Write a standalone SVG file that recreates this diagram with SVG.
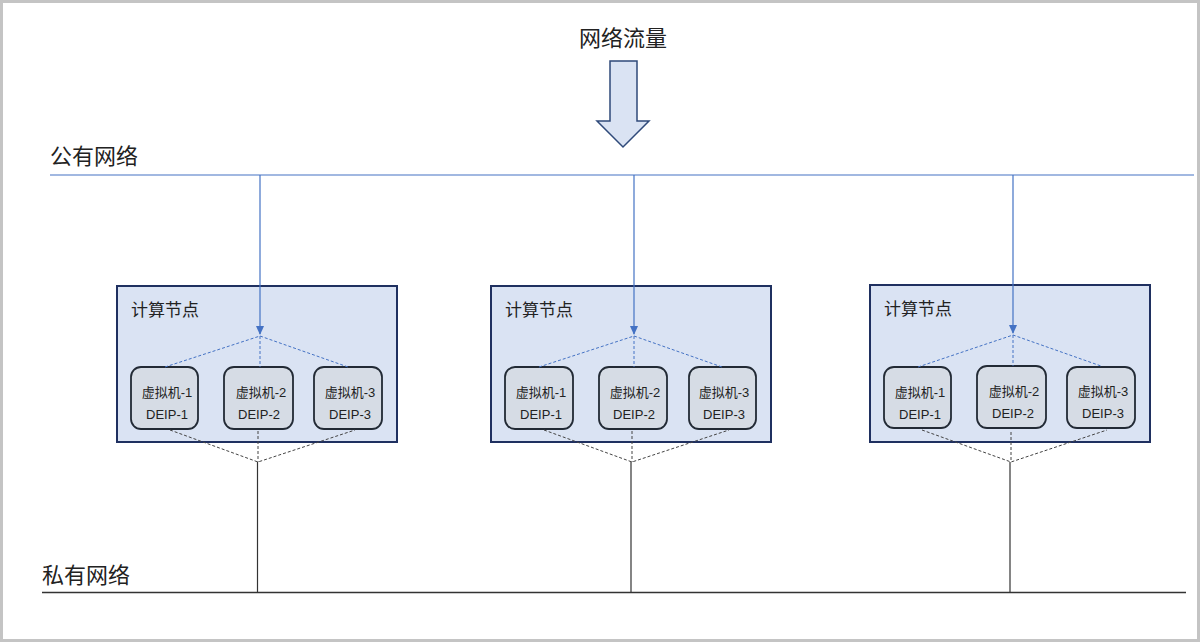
<svg xmlns="http://www.w3.org/2000/svg" width="1200" height="642" viewBox="0 0 1200 642">
<defs>
<style>
.t{font-family:"Liberation Sans","Noto Sans CJK SC",sans-serif;fill:#222}
.big{font-size:22px}
.lbl{font-size:17px}
.vm{font-size:13px;text-anchor:middle}
.node{fill:#dae3f3;stroke:#1f3060;stroke-width:2}
.vmbox{fill:#d6dce5;stroke:#222a35;stroke-width:1.8}
.blue{stroke:#4472c4;stroke-width:1.2;fill:none}
.bdash{stroke:#4472c4;stroke-width:1;stroke-dasharray:3 2;fill:none}
.gdash{stroke:#444;stroke-width:1;stroke-dasharray:3 2;fill:none}
.solid{stroke:#333;stroke-width:1.2;fill:none}
</style>
<marker id="ah" markerWidth="10" markerHeight="10" refX="8" refY="5" orient="auto" markerUnits="userSpaceOnUse">
<path d="M0,1 L9,5 L0,9 Z" fill="#4472c4"/>
</marker>
</defs>
<rect x="1.5" y="1.5" width="1197" height="639" fill="#fff" stroke="#c4c4c4" stroke-width="3"/>

<g id="title">
<text class="t big" x="623" y="46" text-anchor="middle">网络流量</text>
<path d="M610,61 H637 V121 H649 L623,147 L597,121 H610 Z" fill="#dae3f3" stroke="#2f4a7a" stroke-width="1.5"/>
</g>

<g id="public-net">
<text class="t big" x="50" y="164">公有网络</text>
<line x1="50" y1="175" x2="1194" y2="175" stroke="#4472c4" stroke-width="1.2"/>
</g>

<g id="private-net">
<text class="t big" x="42" y="583">私有网络</text>
<line x1="42" y1="592.5" x2="1186" y2="592.5" stroke="#333" stroke-width="1.3"/>
</g>

<g id="node1">
<rect class="node" x="117" y="286" width="280" height="156"/>
<text class="t lbl" x="131" y="316">计算节点</text>
<rect class="vmbox" x="131" y="367" width="67" height="62" rx="10"/>
<rect class="vmbox" x="224" y="367" width="69" height="62" rx="10"/>
<rect class="vmbox" x="314" y="367" width="68" height="62" rx="10"/>
<text class="t vm" x="167" y="397">虚拟机-1</text><text class="t vm" x="167" y="419">DEIP-1</text>
<text class="t vm" x="261" y="397">虚拟机-2</text><text class="t vm" x="259" y="419">DEIP-2</text>
<text class="t vm" x="350" y="397">虚拟机-3</text><text class="t vm" x="350" y="419">DEIP-3</text>
</g>

<g id="node2">
<rect class="node" x="491" y="286" width="280" height="156"/>
<text class="t lbl" x="505" y="316">计算节点</text>
<rect class="vmbox" x="505" y="367" width="68" height="62" rx="10"/>
<rect class="vmbox" x="599" y="367" width="68" height="62" rx="10"/>
<rect class="vmbox" x="689" y="367" width="67" height="62" rx="10"/>
<text class="t vm" x="541" y="397">虚拟机-1</text><text class="t vm" x="541" y="419">DEIP-1</text>
<text class="t vm" x="635" y="397">虚拟机-2</text><text class="t vm" x="634" y="419">DEIP-2</text>
<text class="t vm" x="724" y="397">虚拟机-3</text><text class="t vm" x="724" y="419">DEIP-3</text>
</g>

<g id="node3">
<rect class="node" x="870" y="285" width="280" height="157"/>
<text class="t lbl" x="884" y="315">计算节点</text>
<rect class="vmbox" x="884" y="367" width="67" height="61" rx="10"/>
<rect class="vmbox" x="977" y="366" width="69" height="62" rx="10"/>
<rect class="vmbox" x="1067" y="367" width="68" height="61" rx="10"/>
<text class="t vm" x="920" y="397">虚拟机-1</text><text class="t vm" x="920" y="419">DEIP-1</text>
<text class="t vm" x="1014" y="396">虚拟机-2</text><text class="t vm" x="1013" y="418">DEIP-2</text>
<text class="t vm" x="1103" y="396">虚拟机-3</text><text class="t vm" x="1103" y="418">DEIP-3</text>
</g>

<g id="connectors">
<line class="blue" x1="260" y1="175" x2="260" y2="334" marker-end="url(#ah)"/>
<path class="bdash" d="M165,367 L260,336 L348,367 M260,336 V367"/>
<path class="gdash" d="M170,430 L258,462 L355,430 M258,431 V462"/>
<line class="solid" x1="257.5" y1="462" x2="257.5" y2="592"/>

<line class="blue" x1="634" y1="175" x2="634" y2="334" marker-end="url(#ah)"/>
<path class="bdash" d="M539,367 L634,336 L722,367 M634,336 V367"/>
<path class="gdash" d="M544,430 L632,462 L729,430 M632,431 V462"/>
<line class="solid" x1="631" y1="462" x2="631" y2="592"/>

<line class="blue" x1="1013" y1="175" x2="1013" y2="333" marker-end="url(#ah)"/>
<path class="bdash" d="M918,367 L1013,335 L1101,366 M1013,335 V366"/>
<path class="gdash" d="M922,430 L1011,462 L1107,430 M1011,432 V462"/>
<line class="solid" x1="1010" y1="462" x2="1010" y2="592"/>
</g>
</svg>
